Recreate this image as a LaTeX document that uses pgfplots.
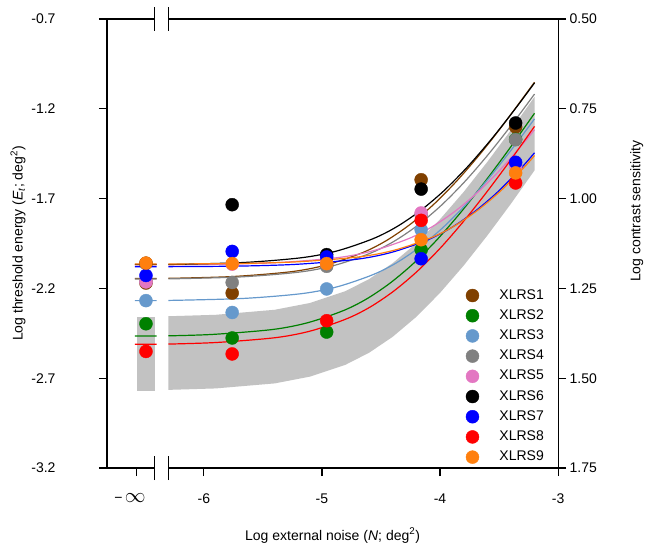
\documentclass[border=0pt]{standalone}
\usepackage{pgfplots}
\pgfplotsset{compat=1.18}
\usepackage{fontspec}
\setmainfont{Liberation Sans}

\definecolor{c1}{RGB}{128,64,0}
\definecolor{c2}{RGB}{0,128,0}
\definecolor{c3}{RGB}{102,153,204}
\definecolor{c4}{RGB}{128,128,128}
\definecolor{c5}{RGB}{227,119,194}
\definecolor{c6}{RGB}{0,0,0}
\definecolor{c7}{RGB}{0,0,255}
\definecolor{c8}{RGB}{255,0,0}
\definecolor{c9}{RGB}{255,127,14}
\definecolor{band}{RGB}{194,194,194}

\newcommand{\fs}{\fontsize{14}{16}\selectfont}

\begin{document}
\begin{tikzpicture}
\begin{axis}[
    name=main,
    x=118.1pt, y=179.6pt,
    xmin=-6.82, xmax=-3, ymin=-3.2, ymax=-0.7,
    axis x line*=bottom, axis y line*=left,
    x axis line style={draw=none},
    y axis line style={line width=1.2pt},
    xtick={-6.57,-6,-5,-4,-3},
    xticklabels={{−\,{\fontsize{22}{22}\selectfont$\infty$}\hspace*{13pt}},-6,-5,-4,-3},
    ytick={-3.2,-2.7,-2.2,-1.7,-1.2,-0.7},
    /pgf/number format/assume math mode=true,
    tick align=outside, major tick length=8pt,
    tick style={black, line width=1.2pt},
    every tick label/.append style={font=\fs},
    xticklabel style={yshift=-14pt},
    yticklabel style={xshift=-40pt, /pgf/number format/fixed,
        /pgf/number format/fixed zerofill, /pgf/number format/precision=1},
    xlabel={Log external noise (\textit{N}; deg\textsuperscript{2})},
    ylabel={Log threshold energy (\textit{E}\textsubscript{\textit{t}}; deg\textsuperscript{2})},
    label style={font=\fs},
    xlabel style={at={(axis description cs:0.5,0)}, anchor=base, yshift=-72pt},
    ylabel style={at={(axis description cs:-0.197,0.5)}, anchor=center},
    clip=false,
    unbounded coords=jump,
    legend style={draw=none, fill=none, inner sep=0pt, font=\fs,
        at={(axis cs:-3.782,-2.194)}, anchor=north west,
        row sep=4.2pt,
        nodes={inner sep=1.5pt, text height=10pt, text depth=3pt},
        /tikz/every odd column/.append style={column sep=19pt}},
    legend cell align=left,
    legend image code/.code={\draw[#1] plot coordinates {(0pt,0pt)};},
]
% normal range band
\addplot[fill=band, draw=none, forget plot] coordinates {
    (-6.57,-2.36) (-6.415,-2.36) (-6.415,-2.77) (-6.57,-2.77)} -- cycle;
\addplot[fill=band, draw=none, forget plot] coordinates {
    (-6.3,-2.355) (-5.9,-2.347) (-5.4,-2.319) (-5.1,-2.281) (-4.8,-2.215)
    (-4.6,-2.148) (-4.4,-2.059) (-4.2,-1.948) (-4.0,-1.815) (-3.8,-1.663)
    (-3.6,-1.496) (-3.4,-1.319) (-3.2,-1.133)
    (-3.2,-1.543) (-3.4,-1.729) (-3.6,-1.906) (-3.8,-2.073) (-4.0,-2.225)
    (-4.2,-2.358) (-4.4,-2.469) (-4.6,-2.558) (-4.8,-2.625) (-5.1,-2.691)
    (-5.4,-2.729) (-5.9,-2.757) (-6.3,-2.765)} -- cycle;

% fitted curves
\addplot[c1, line width=1.2pt, smooth, forget plot] coordinates {
    (-6.585,-2.145) (-6.40,-2.145) (-6.35,nan)
    (-6.3,-2.144) (-5.76,-2.134) (-5.26,-2.107) (-4.96,-2.069) (-4.66,-2.002)
    (-4.46,-1.936) (-4.26,-1.847) (-4.06,-1.736) (-3.86,-1.603) (-3.66,-1.451)
    (-3.46,-1.284) (-3.2,-1.052)};
\addplot[c2, line width=1.2pt, smooth, forget plot] coordinates {
    (-6.585,-2.465) (-6.40,-2.465) (-6.35,nan)
    (-6.3,-2.464) (-5.92,-2.456) (-5.42,-2.429) (-5.12,-2.391) (-4.82,-2.324)
    (-4.62,-2.258) (-4.42,-2.169) (-4.22,-2.058) (-4.02,-1.925) (-3.82,-1.773)
    (-3.62,-1.606) (-3.42,-1.429) (-3.2,-1.225)};
\addplot[c3, line width=1.2pt, smooth, forget plot] coordinates {
    (-6.585,-2.268) (-6.40,-2.268) (-6.35,nan)
    (-6.3,-2.267) (-5.67,-2.256) (-5.17,-2.229) (-4.87,-2.191) (-4.57,-2.124)
    (-4.37,-2.058) (-4.17,-1.969) (-3.97,-1.858) (-3.77,-1.725) (-3.57,-1.573)
    (-3.37,-1.406) (-3.2,-1.256)};
\addplot[c4, line width=1.2pt, smooth, forget plot] coordinates {
    (-6.585,-2.148) (-6.40,-2.148) (-6.35,nan)
    (-6.3,-2.147) (-5.69,-2.136) (-5.19,-2.109) (-4.89,-2.071) (-4.59,-2.004)
    (-4.39,-1.938) (-4.19,-1.849) (-3.99,-1.738) (-3.79,-1.605) (-3.59,-1.453)
    (-3.39,-1.286) (-3.2,-1.118)};
\addplot[c5, line width=1.2pt, smooth, forget plot] coordinates {
    (-6.585,-2.068) (-6.40,-2.068) (-6.35,nan)
    (-6.3,-2.068) (-5.87,-2.066) (-5.37,-2.056) (-4.87,-2.029) (-4.57,-1.991)
    (-4.27,-1.924) (-4.07,-1.858) (-3.87,-1.769) (-3.67,-1.658) (-3.47,-1.525)
    (-3.27,-1.373) (-3.2,-1.316)};
\addplot[c6, line width=1.2pt, smooth, forget plot] coordinates {
    (-6.585,-2.067) (-6.40,-2.067) (-6.35,nan)
    (-6.3,-2.067) (-5.67,-2.056) (-5.17,-2.029) (-4.87,-1.991) (-4.57,-1.924)
    (-4.37,-1.858) (-4.17,-1.769) (-3.97,-1.658) (-3.77,-1.525) (-3.57,-1.373)
    (-3.37,-1.206) (-3.2,-1.056)};
\addplot[c7, line width=1.2pt, smooth, forget plot] coordinates {
    (-6.585,-2.079) (-6.40,-2.079) (-6.35,nan)
    (-6.3,-2.079) (-5.72,-2.076) (-5.22,-2.066) (-4.72,-2.039) (-4.42,-2.001)
    (-4.12,-1.934) (-3.92,-1.868) (-3.72,-1.779) (-3.52,-1.668) (-3.32,-1.535)
    (-3.2,-1.445)};
\addplot[c8, line width=1.2pt, smooth, forget plot] coordinates {
    (-6.585,-2.511) (-6.40,-2.511) (-6.35,nan)
    (-6.3,-2.510) (-5.89,-2.501) (-5.39,-2.474) (-5.09,-2.436) (-4.79,-2.369)
    (-4.59,-2.303) (-4.39,-2.214) (-4.19,-2.103) (-3.99,-1.970) (-3.79,-1.818)
    (-3.59,-1.651) (-3.39,-1.474) (-3.2,-1.298)};
\addplot[c9, line width=1.2pt, smooth, forget plot] coordinates {
    (-6.585,-2.064) (-6.40,-2.064) (-6.35,nan)
    (-6.3,-2.064) (-5.68,-2.061) (-5.18,-2.051) (-4.68,-2.024) (-4.38,-1.986)
    (-4.08,-1.919) (-3.88,-1.853) (-3.68,-1.764) (-3.48,-1.653) (-3.28,-1.520)
    (-3.2,-1.460)};

% observed thresholds
\addplot[only marks, mark=*, mark size=6.5pt, c1, mark options={draw=c1, fill=c1}] coordinates {
    (-6.49,-2.170) (-5.76,-2.226) (-4.96,-2.070) (-4.16,-1.595) (-3.36,-1.301)};
\addlegendentry{XLRS1}
\addplot[only marks, mark=*, mark size=6.5pt, c2, mark options={draw=c2, fill=c2}] coordinates {
    (-6.49,-2.397) (-5.76,-2.476) (-4.96,-2.443) (-4.16,-1.985) (-3.36,-1.370)};
\addlegendentry{XLRS2}
\addplot[only marks, mark=*, mark size=6.5pt, c3, mark options={draw=c3, fill=c3}] coordinates {
    (-6.49,-2.268) (-5.76,-2.334) (-4.96,-2.203) (-4.16,-1.873) (-3.36,-1.510)};
\addlegendentry{XLRS3}
\addplot[only marks, mark=*, mark size=6.5pt, c4, mark options={draw=c4, fill=c4}] coordinates {
    (-6.49,-2.160) (-5.76,-2.167) (-4.96,-2.077) (-4.16,-1.790) (-3.36,-1.372)};
\addlegendentry{XLRS4}
\addplot[only marks, mark=*, mark size=6.5pt, c5, mark options={draw=c5, fill=c5}] coordinates {
    (-6.49,-2.164) (-5.76,-2.065) (-4.96,-2.060) (-4.16,-1.780) (-3.36,-1.520)};
\addlegendentry{XLRS5}
\addplot[only marks, mark=*, mark size=6.5pt, c6, mark options={draw=c6, fill=c6}] coordinates {
    (-6.49,-2.060) (-5.76,-1.734) (-4.96,-2.012) (-4.16,-1.647) (-3.36,-1.279)};
\addlegendentry{XLRS6}
\addplot[only marks, mark=*, mark size=6.5pt, c7, mark options={draw=c7, fill=c7}] coordinates {
    (-6.49,-2.128) (-5.76,-1.994) (-4.96,-2.025) (-4.16,-2.035) (-3.36,-1.498)};
\addlegendentry{XLRS7}
\addplot[only marks, mark=*, mark size=6.5pt, c8, mark options={draw=c8, fill=c8}] coordinates {
    (-6.49,-2.551) (-5.76,-2.565) (-4.96,-2.380) (-4.16,-1.821) (-3.36,-1.613)};
\addlegendentry{XLRS8}
\addplot[only marks, mark=*, mark size=6.5pt, c9, mark options={draw=c9, fill=c9}] coordinates {
    (-6.49,-2.059) (-5.76,-2.062) (-4.96,-2.062) (-4.16,-1.929) (-3.36,-1.557)};
\addlegendentry{XLRS9}

% broken x axis lines, bottom and top
\draw[line width=1.2pt] (axis cs:-6.82,-3.2) -- (axis cs:-6.415,-3.2);
\draw[line width=1.2pt] (axis cs:-6.30,-3.2) -- (axis cs:-3,-3.2);
\draw[line width=1.2pt] (axis cs:-6.82,-0.7) -- (axis cs:-6.415,-0.7);
\draw[line width=1.2pt] (axis cs:-6.30,-0.7) -- (axis cs:-3,-0.7);
\draw[line width=1.2pt] (axis cs:-6.415,-3.2) ++(0pt,-12pt) -- ++(0pt,24pt);
\draw[line width=1.2pt] (axis cs:-6.30,-3.2) ++(0pt,-12pt) -- ++(0pt,24pt);
\draw[line width=1.2pt] (axis cs:-6.415,-0.7) ++(0pt,-12pt) -- ++(0pt,24pt);
\draw[line width=1.2pt] (axis cs:-6.30,-0.7) ++(0pt,-12pt) -- ++(0pt,24pt);
\end{axis}

\begin{axis}[
    x=118.1pt, y=359.2pt,
    xmin=-6.82, xmax=-3, ymin=0.5, ymax=1.75, y dir=reverse,
    axis y line*=right, axis x line=none,
    y axis line style={line width=1.2pt},
    ytick={0.5,0.75,1,1.25,1.5,1.75},
    /pgf/number format/assume math mode=true,
    yticklabel style={/pgf/number format/fixed,
        /pgf/number format/fixed zerofill, /pgf/number format/precision=2},
    tick align=outside, major tick length=8pt,
    tick style={black, line width=1.2pt},
    every tick label/.append style={font=\fs},
    ylabel={Log contrast sensitivity},
    label style={font=\fs},
    ylabel style={at={(axis description cs:1.174,0.572)}, anchor=center},
]
\end{axis}

\path (main.south west) ++(-107pt,-82pt) rectangle ++(657pt,550pt);
\end{tikzpicture}
\end{document}
